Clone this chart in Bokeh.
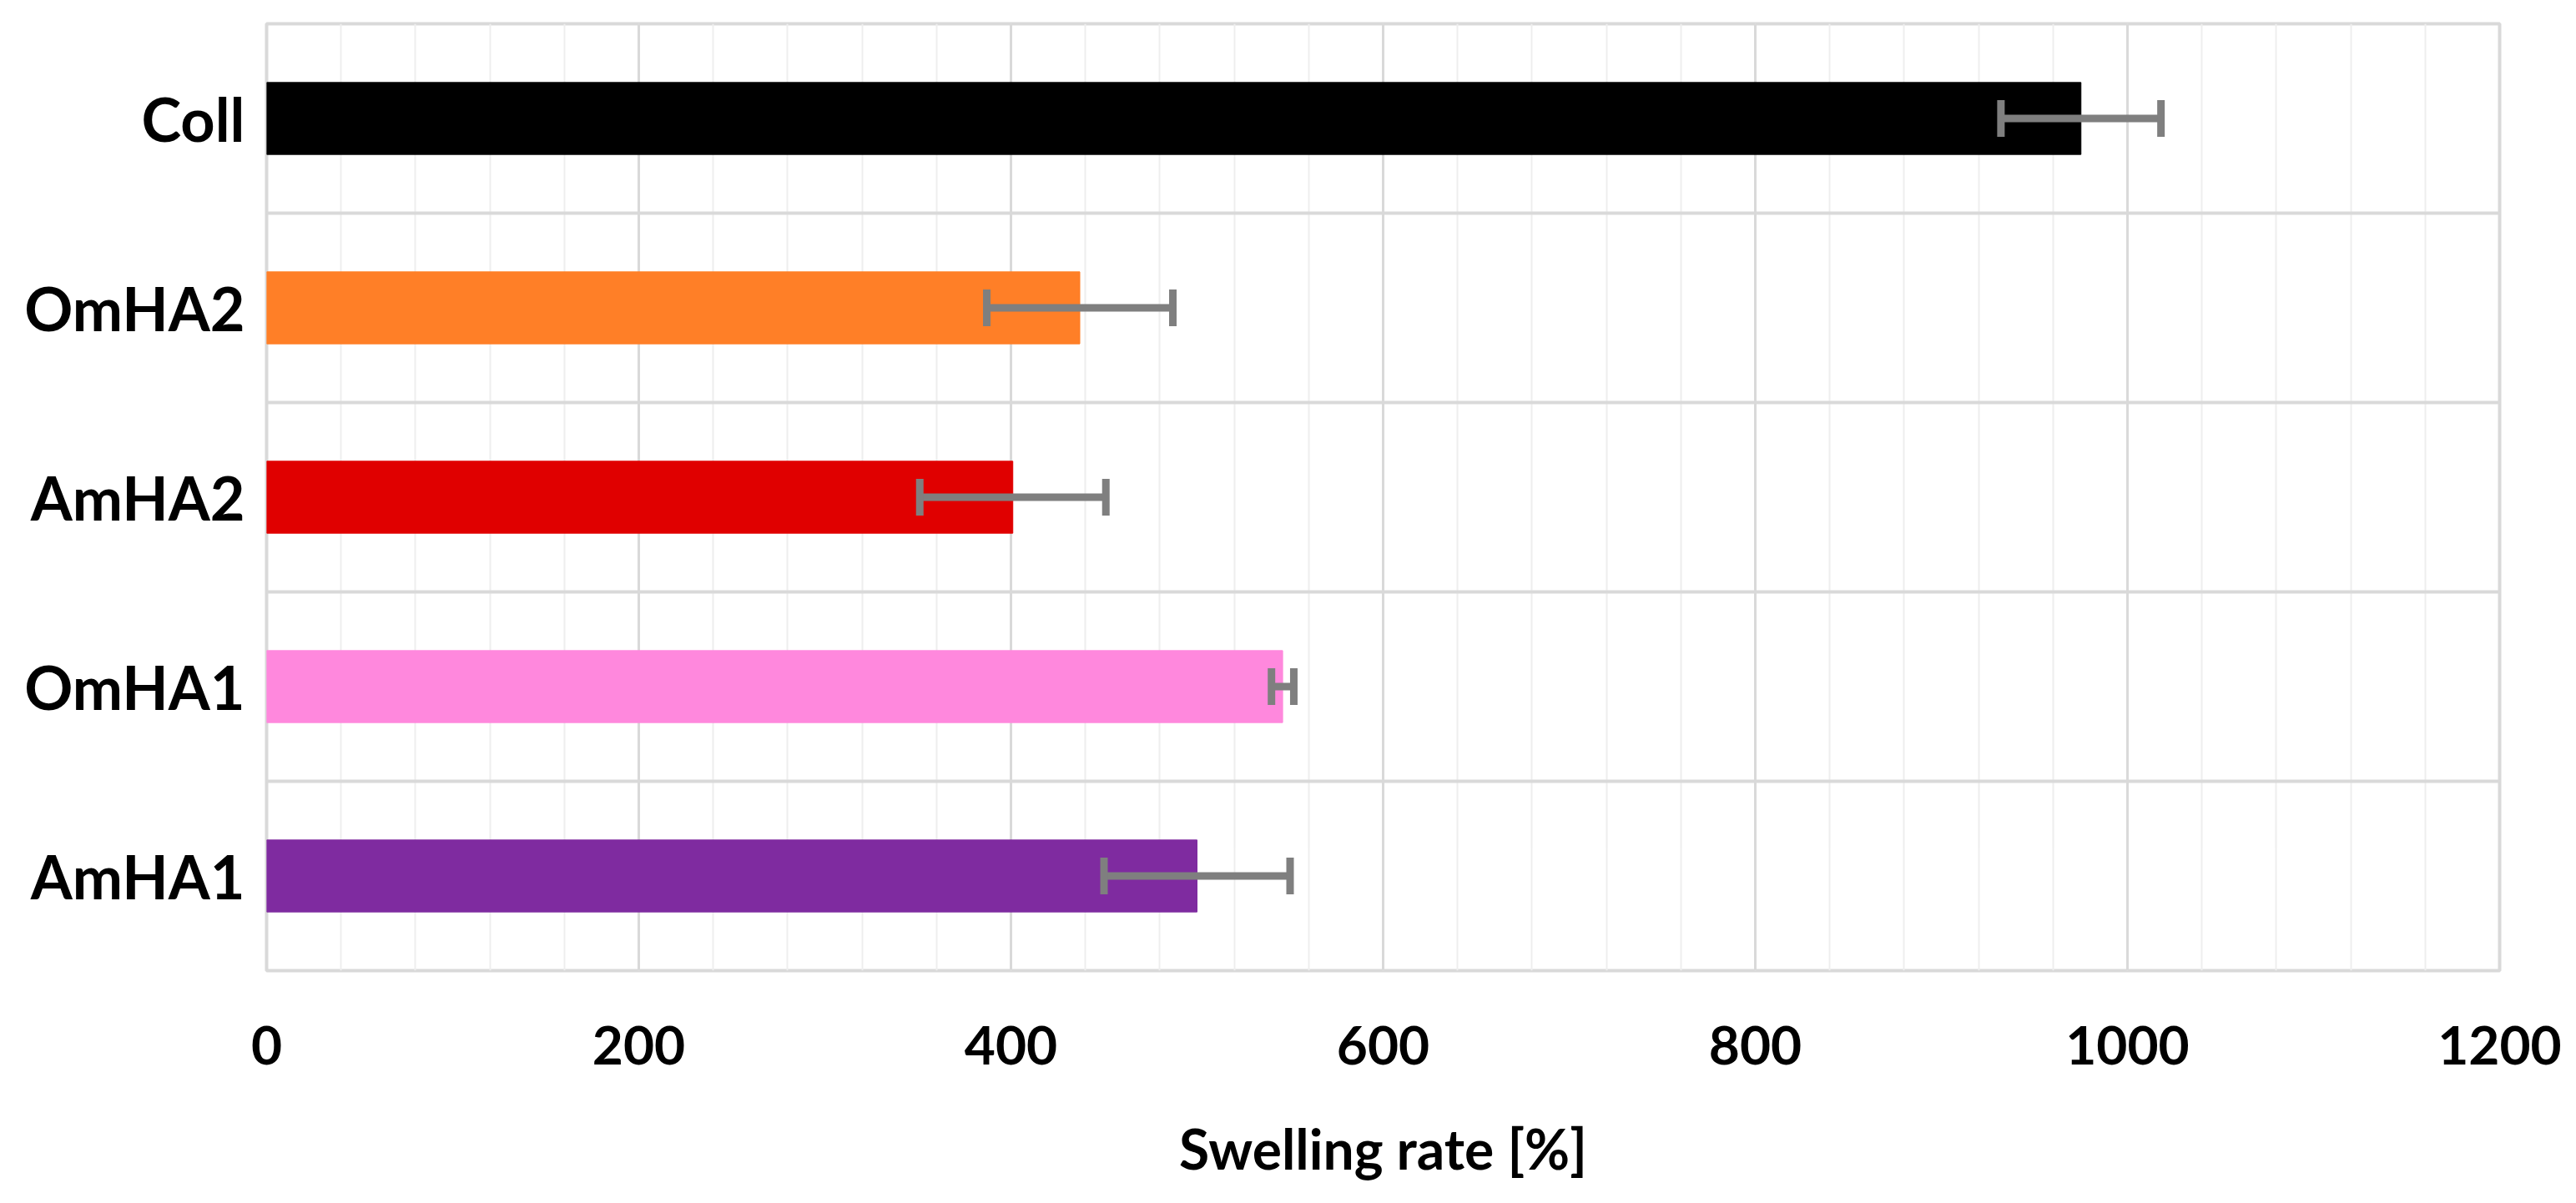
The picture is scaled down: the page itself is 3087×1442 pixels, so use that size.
from bokeh.plotting import figure
from bokeh.models import ColumnDataSource, Range1d, FactorRange, FixedTicker, Whisker, TeeHead
from bokeh.embed import file_html
from bokeh.resources import INLINE

# samples from bottom to top
samples = ["AmHA1", "OmHA1", "AmHA2", "OmHA2", "Coll"]
swelling = [500, 546, 401, 437, 975]
swelling_sd = [50, 6, 50, 50, 43]
bar_colors = ["#7f2ba0", "#ff88dd", "#e00000", "#ff7f27", "#000000"]
x_ticks = [0, 200, 400, 600, 800, 1000, 1200]

src = ColumnDataSource(dict(
    sample=samples,
    value=swelling,
    lower=[v - e for v, e in zip(swelling, swelling_sd)],
    upper=[v + e for v, e in zip(swelling, swelling_sd)],
    color=bar_colors,
))

p = figure(y_range=FactorRange(factors=samples, range_padding=0), x_range=Range1d(0, 1200),
           width=3071, height=1426, output_backend="svg", toolbar_location=None,
           min_border_left=319, min_border_right=76, min_border_top=28, min_border_bottom=263)
p.outline_line_color = "#d9d9d9"
p.outline_line_width = 4
p.background_fill_color = "white"

# bars
p.hbar(y="sample", right="value", left=0, height=0.38, color="color", source=src)

# error bars, drawn on top of the bars
err = Whisker(base="sample", lower="lower", upper="upper", dimension="width", source=src,
              line_color="#7f7f7f", line_width=9, level="overlay",
              lower_head=TeeHead(size=44, line_color="#7f7f7f", line_width=9),
              upper_head=TeeHead(size=44, line_color="#7f7f7f", line_width=9))
p.add_layout(err)

# grid: major every 200, minor every 40, horizontal lines between samples
p.xgrid.ticker = FixedTicker(ticks=x_ticks, minor_ticks=list(range(0, 1201, 40)))
p.xgrid.grid_line_color = "#d9d9d9"
p.xgrid.grid_line_width = 3
p.xgrid.minor_grid_line_color = "#eeeeee"
p.xgrid.minor_grid_line_width = 2
p.ygrid.ticker = FixedTicker(ticks=[0, 1, 2, 3, 4, 5])
p.ygrid.grid_line_color = "#d9d9d9"
p.ygrid.grid_line_width = 4

# axes
p.xaxis.ticker = FixedTicker(ticks=x_ticks)
p.xaxis.axis_label = "Swelling rate [%]"
for ax in (p.xaxis, p.yaxis):
    ax.axis_line_color = None
    ax.major_tick_line_color = None
    ax.minor_tick_line_color = None
    ax.major_label_text_font = "Lato"
    ax.major_label_text_font_style = "bold"
    ax.major_label_text_color = "black"
p.xaxis.major_label_text_font_size = "64px"
p.yaxis.major_label_text_font_size = "72px"
p.xaxis.major_label_standoff = 60
p.xaxis.axis_label_text_font = "Lato"
p.xaxis.axis_label_text_font_style = "bold"
p.xaxis.axis_label_text_font_size = "66px"
p.xaxis.axis_label_text_color = "black"
p.xaxis.axis_label_standoff = 58
p.yaxis.major_label_standoff = 20

open("out.html", "w").write(file_html(p, INLINE))
